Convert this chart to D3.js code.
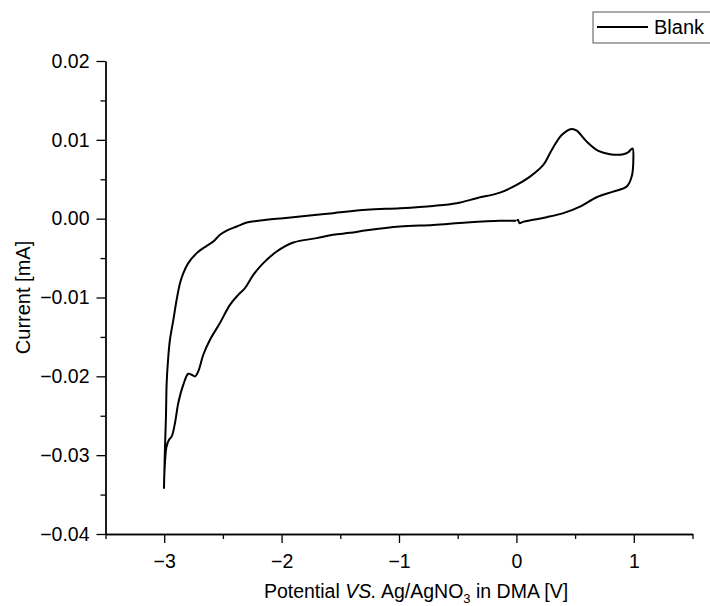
<!DOCTYPE html>
<html lang="en">
<head>
<meta charset="UTF-8">
<title>CV - Blank</title>
<script src="https://cdn.jsdelivr.net/npm/d3@7"></script>
<style>
  body { margin: 0; background: #fff; }
  text { font-family: "Liberation Sans", Arial, sans-serif; fill: #000; }
</style>
</head>
<body>
<div id="chart"></div>
<script>
// potential (V) and current (mA), in scan order
const potential = [
  0.003, 0.014, 0.026, 0.056, 0.141, 0.258, 0.400, 0.542, 0.684, 0.825, 0.940, 0.982, 0.996, 0.989,
  0.951, 0.911, 0.797, 0.698, 0.599, 0.514, 0.471, 0.386, 0.301, 0.229, 0.116, -0.026, -0.140, -0.338,
  -0.509, -0.710, -0.991, -1.275, -1.562, -1.843, -1.986, -2.184, -2.297, -2.382, -2.468, -2.525,
  -2.582, -2.638, -2.723, -2.795, -2.837, -2.865, -2.894, -2.922, -2.951, -2.965, -2.979, -2.985,
  -2.993, -3.002,
  -2.997, -2.980, -2.959, -2.936, -2.908, -2.880, -2.837, -2.795, -2.766, -2.738, -2.710, -2.667,
  -2.610, -2.525, -2.440, -2.369, -2.312, -2.241, -2.156, -2.042, -1.900, -1.701, -1.562, -1.417,
  -1.275, -0.991, -0.710, -0.423, -0.140, -0.003
];
const current = [
  -0.00028, -0.00013, -0.00057, -0.00041, -0.00015, 0.00019, 0.00070, 0.00153, 0.00272, 0.00343, 0.00407, 0.00534, 0.00745, 0.00891,
  0.00840, 0.00818, 0.00818, 0.00859, 0.00977, 0.01117, 0.01138, 0.01062, 0.00872, 0.00682, 0.00534, 0.00407, 0.00331, 0.00260,
  0.00196, 0.00162, 0.00133, 0.00112, 0.00070, 0.00027, 0.00006, -0.00024, -0.00049, -0.00100, -0.00151, -0.00205,
  -0.00290, -0.00345, -0.00437, -0.00564, -0.00691, -0.00817, -0.01029, -0.01283, -0.01536, -0.01748, -0.02085, -0.02508,
  -0.02888, -0.03416,
  -0.03184, -0.02892, -0.02804, -0.02762, -0.02592, -0.02338, -0.02106, -0.01967, -0.01980, -0.02001, -0.01938, -0.01726,
  -0.01536, -0.01324, -0.01093, -0.00966, -0.00881, -0.00712, -0.00564, -0.00417, -0.00303, -0.00247, -0.00205, -0.00180,
  -0.00148, -0.00100, -0.00079, -0.00049, -0.00028, -0.00028
];
const xTicks = [-3, -2, -1, 0, 1];
const xMinorTicks = [-3.5, -2.5, -1.5, -0.5, 0.5, 1.5];
const yTicks = [-0.04, -0.03, -0.02, -0.01, 0.00, 0.01, 0.02];
const yMinorTicks = [-0.035, -0.025, -0.015, -0.005, 0.005, 0.015];
const seriesName = "Blank";

const data = potential.map((v, i) => ({v: v, i: current[i]}));

const W = 710, H = 606;
const margin = {top: 61, right: 17.5, bottom: 72, left: 105.5};
const width = W - margin.left - margin.right,
      height = H - margin.top - margin.bottom;

const svg = d3.select("#chart").append("svg")
    .attr("width", W)
    .attr("height", H);

const g = svg.append("g")
    .attr("transform", `translate(${margin.left},${margin.top})`);

const x = d3.scaleLinear().domain([-3.5, 1.5]).range([0, width]);
const y = d3.scaleLinear().domain([-0.04, 0.02]).range([height, 0]);

// minor ticks first, no labels
g.append("g")
    .attr("transform", `translate(0,${height})`)
    .call(d3.axisBottom(x).tickValues(xMinorTicks).tickSize(5).tickSizeOuter(0).tickFormat(""));
g.append("g")
    .call(d3.axisLeft(y).tickValues(yMinorTicks).tickSize(5).tickSizeOuter(0).tickFormat(""));

// major ticks
const xAxis = g.append("g")
    .attr("transform", `translate(0,${height})`)
    .call(d3.axisBottom(x).tickValues(xTicks).tickSize(9).tickSizeOuter(0)
      .tickPadding(11).tickFormat(d3.format("d")));
const yAxis = g.append("g")
    .call(d3.axisLeft(y).tickValues(yTicks).tickSize(9).tickSizeOuter(0)
      .tickPadding(7).tickFormat(d3.format(".2f")));

[xAxis, yAxis].forEach(a => {
  a.selectAll("text").style("font-size", "19.5px").attr("fill", "#000");
});
svg.selectAll(".domain, .tick line").attr("stroke", "#000").attr("stroke-width", 1.3);

// the voltammogram
g.append("path")
    .datum(data)
    .attr("fill", "none")
    .attr("stroke", "#000")
    .attr("stroke-width", 2)
    .attr("stroke-linejoin", "round")
    .attr("d", d3.line().curve(d3.curveCatmullRom.alpha(0.5)).x(d => x(d.v)).y(d => y(d.i)));

// axis titles
const xt = svg.append("text")
    .attr("x", 416)
    .attr("y", 598)
    .attr("text-anchor", "middle")
    .style("font-size", "19.5px");
xt.append("tspan").text("Potential ");
xt.append("tspan").style("font-style", "italic").text("VS.");
xt.append("tspan").text(" Ag/AgNO");
xt.append("tspan").attr("dy", 5).style("font-size", "13px").text("3");
xt.append("tspan").attr("dy", -5).text(" in DMA [V]");

svg.append("text")
    .attr("transform", `translate(30,${margin.top + height / 2}) rotate(-90)`)
    .attr("text-anchor", "middle")
    .style("font-size", "20px")
    .text("Current [mA]");

// legend
const legend = svg.append("g").attr("transform", "translate(593,12)");
legend.append("rect")
    .attr("width", 130).attr("height", 31)
    .attr("fill", "#fff").attr("stroke", "#555").attr("stroke-width", 1);
legend.append("line")
    .attr("x1", 4).attr("x2", 55).attr("y1", 15).attr("y2", 15)
    .attr("stroke", "#000").attr("stroke-width", 2);
legend.append("text")
    .attr("x", 61).attr("y", 22)
    .style("font-size", "20px")
    .text(seriesName);
</script>
</body>
</html>
